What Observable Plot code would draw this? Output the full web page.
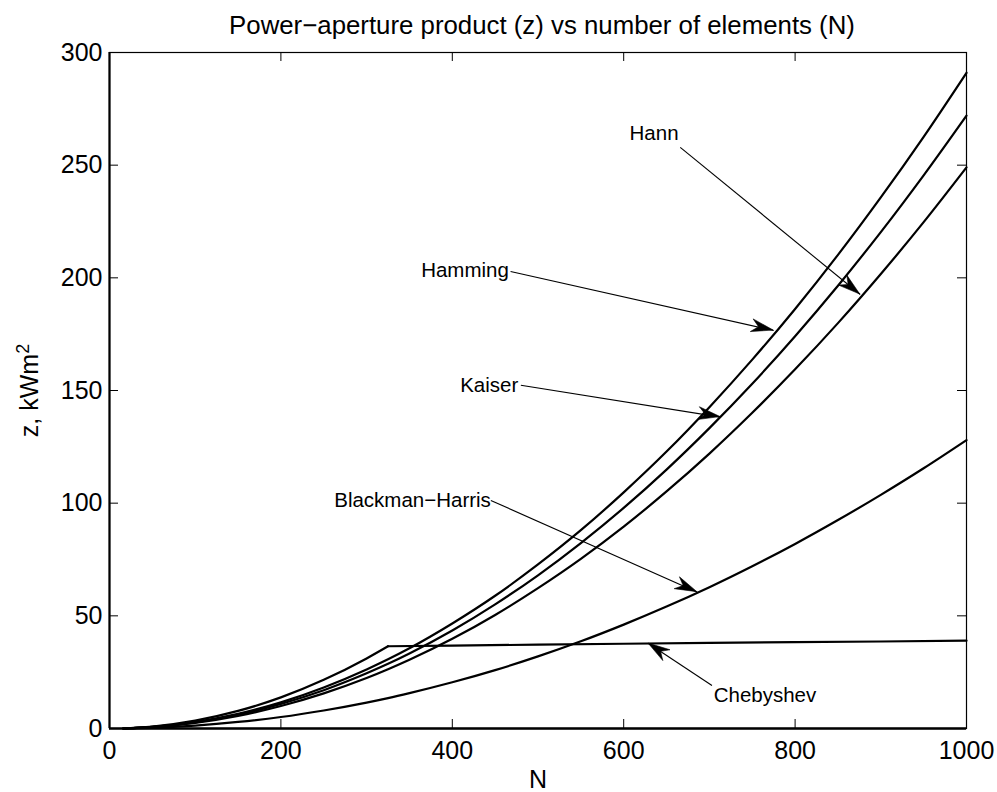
<!DOCTYPE html>
<html>
<head>
<meta charset="utf-8">
<script src="https://cdn.jsdelivr.net/npm/d3@7"></script>
<script src="https://cdn.jsdelivr.net/npm/@observablehq/plot@0.6"></script>
<style>
  html, body { margin: 0; padding: 0; background: #fff; }
  svg { display: block; }
</style>
</head>
<body>
<div id="chart"></div>
<script>
// ---- data ----
const N        = [16, 25, 50, 100, 150, 200, 250, 300, 325, 350, 400, 450, 500, 550, 600, 650, 700, 750, 800, 850, 900, 950, 1000];
const hamming  = [0, 0.18, 0.73, 2.9, 6.5, 11.6, 18.2, 26.2, 30.7, 35.6, 46.6, 58.9, 72.8, 88.0, 104.8, 122.9, 142.6, 163.7, 186.2, 210.2, 235.7, 262.6, 291];
const kaiser   = [0, 0.17, 0.68, 2.7, 6.1, 10.9, 17.0, 24.5, 28.7, 33.3, 43.5, 55.1, 68.0, 82.3, 97.9, 114.9, 133.3, 153.0, 174.1, 196.5, 220.3, 245.5, 272];
const hann     = [0, 0.16, 0.62, 2.5, 5.6, 10.0, 15.6, 22.4, 26.3, 30.5, 39.8, 50.4, 62.3, 75.3, 89.6, 105.2, 122.0, 140.1, 159.4, 179.9, 201.7, 224.7, 249];
const blackmanHarris = [0, 0.08, 0.32, 1.3, 2.9, 5.1, 8.0, 11.5, 13.5, 15.7, 20.5, 25.9, 32.0, 38.7, 46.1, 54.1, 62.7, 72.0, 81.9, 92.5, 103.7, 115.5, 128];
const chebyshevN = [16, 25, 50, 100, 150, 200, 250, 300, 325];
const chebyshevRise = [0, 0.22, 0.87, 3.5, 7.8, 13.8, 21.6, 31.1, 36.5];
const chebyshevFlatN = [325, 400, 500, 600, 700, 800, 900, 1000];
const chebyshevFlat = [36.5, 36.8, 37.2, 37.6, 38.0, 38.3, 38.6, 39.0];

const seriesNames = ["Hamming", "Kaiser", "Hann", "Blackman−Harris"];
const seriesValues = [hamming, kaiser, hann, blackmanHarris];

const xTicks = [0, 200, 400, 600, 800, 1000];
const yTicks = [0, 50, 100, 150, 200, 250, 300];

// annotations: label text & position, arrow tail, arrow tip
const annLabels  = ["Hann", "Hamming", "Kaiser", "Blackman−Harris", "Chebyshev"];
const annTextX   = [664, 466, 477, 445, 705];
const annTextY   = [264, 203.3, 152.2, 101.2, 14.5];
const annAnchor  = ["end", "end", "end", "end", "start"];
const annTailX   = [666, 468, 480, 445, 703];
const annTailY   = [257.9, 202.8, 152.3, 101.2, 19.1];
const annTipX    = [876, 775, 713, 686, 629];
const annTipY    = [192.6, 176.6, 138.2, 60.5, 37.7];

const titleText = "Power−aperture product (z) vs number of elements (N)";
const xLabel = "N";
const yLabel = "z, kWm";
const yLabelSup = "2";

// ---- build tables ----
const lineData = seriesNames.flatMap((name, s) => N.map((n, i) => ({series: name, N: n, z: seriesValues[s][i]})));
const chebRise = chebyshevN.map((n, i) => ({N: n, z: chebyshevRise[i]}));
const chebFlat = chebyshevFlatN.map((n, i) => ({N: n, z: chebyshevFlat[i]}));
const ann = annLabels.map((t, i) => ({
  text: t, tx: annTextX[i], ty: annTextY[i], anchor: annAnchor[i],
  x1: annTailX[i], y1: annTailY[i], x2: annTipX[i], y2: annTipY[i]
}));

const W = 997, H = 792;
const mL = 109, mR = 31, mT = 52, mB = 64;
const fw = W - mL - mR, fh = H - mT - mB;
const font = "'Liberation Sans', Arial, Helvetica, sans-serif";

const plot = Plot.plot({
  width: W, height: H,
  marginLeft: mL, marginRight: mR, marginTop: mT, marginBottom: mB,
  style: {fontFamily: font, fontSize: "25px", color: "#000", background: "#fff", overflow: "visible"},
  x: {domain: [0, 1000]},
  y: {domain: [0, 300]},
  marks: [
    // inward ticks, bottom/top/left/right
    Plot.ruleX(xTicks, {x: d => d, insetTop: fh - 9, stroke: "#000", strokeWidth: 1}),
    Plot.ruleX(xTicks, {x: d => d, insetBottom: fh - 9, stroke: "#000", strokeWidth: 1}),
    Plot.ruleY(yTicks, {y: d => d, insetRight: fw - 9, stroke: "#000", strokeWidth: 1}),
    Plot.ruleY(yTicks, {y: d => d, insetLeft: fw - 9, stroke: "#000", strokeWidth: 1}),
    Plot.axisX(xTicks, {tickSize: 0, tickPadding: 13, fontSize: 25, tickFormat: d => String(d)}),
    Plot.axisY(yTicks, {tickSize: 0, tickPadding: 7, fontSize: 25, tickFormat: d => String(d)}),
    // curves
    Plot.line(lineData, {x: "N", y: "z", z: "series", stroke: "#000", strokeWidth: 2.2, curve: "monotone-x"}),
    Plot.line(chebRise, {x: "N", y: "z", stroke: "#000", strokeWidth: 2.2, curve: "monotone-x"}),
    Plot.line(chebFlat, {x: "N", y: "z", stroke: "#000", strokeWidth: 2.2}),
    // annotation shafts and labels
    Plot.link(ann, {x1: "x1", y1: "y1", x2: "x2", y2: "y2", stroke: "#000", strokeWidth: 1.1}),
    Plot.text(ann.filter(d => d.anchor === "end"), {x: "tx", y: "ty", text: "text", textAnchor: "end", fontSize: 20.5, fill: "#000", lineAnchor: "middle"}),
    Plot.text(ann.filter(d => d.anchor === "start"), {x: "tx", y: "ty", text: "text", textAnchor: "start", fontSize: 20.5, fill: "#000", lineAnchor: "middle"}),
    // frame
    Plot.frame({stroke: "#000", strokeWidth: 1.2}),
    Plot.ruleX([0], {stroke: "#000", strokeWidth: 2.2}),
    Plot.ruleY([0], {stroke: "#000", strokeWidth: 2.6}),
    // title and axis labels
    Plot.text([titleText], {frameAnchor: "top", dx: 4, dy: -27, fontSize: 25.8, lineAnchor: "middle", fill: "#000"}),
    Plot.text([xLabel], {frameAnchor: "bottom", dy: 51, fontSize: 25, lineAnchor: "middle", fill: "#000"}),
    Plot.text([yLabel], {frameAnchor: "left", dx: -80, rotate: -90, textAnchor: "middle", fontSize: 25, lineAnchor: "middle", fill: "#000"})
  ]
});

// superscript on the y label
d3.select(plot).selectAll("text").filter(function() { return this.textContent === yLabel; })
  .each(function() {
    d3.select(this).append("tspan").attr("dy", "-0.45em").attr("font-size", "18px").text(yLabelSup);
  });

// filled MATLAB-style arrowheads placed through the plot's scales
const sx = plot.scale("x"), sy = plot.scale("y");
const svg = d3.select(plot);
ann.forEach(a => {
  const X1 = sx.apply(a.x1), Y1 = sy.apply(a.y1);
  const X2 = sx.apply(a.x2), Y2 = sy.apply(a.y2);
  const dx = X2 - X1, dy = Y2 - Y1, L = Math.hypot(dx, dy);
  const ux = dx / L, uy = dy / L, px = -uy, py = ux;
  const len = 22, hw = 6.5, notch = 7;
  const bx = X2 - ux * len, by = Y2 - uy * len;
  const nx = X2 - ux * (len - notch), ny = Y2 - uy * (len - notch);
  const pts = [[X2, Y2], [bx + px * hw, by + py * hw], [nx, ny], [bx - px * hw, by - py * hw]];
  svg.append("path")
    .attr("d", "M" + pts.map(p => p.join(",")).join("L") + "Z")
    .attr("fill", "#000").attr("stroke", "#000").attr("stroke-width", 0.6);
});

document.getElementById("chart").appendChild(plot);
</script>
</body>
</html>
